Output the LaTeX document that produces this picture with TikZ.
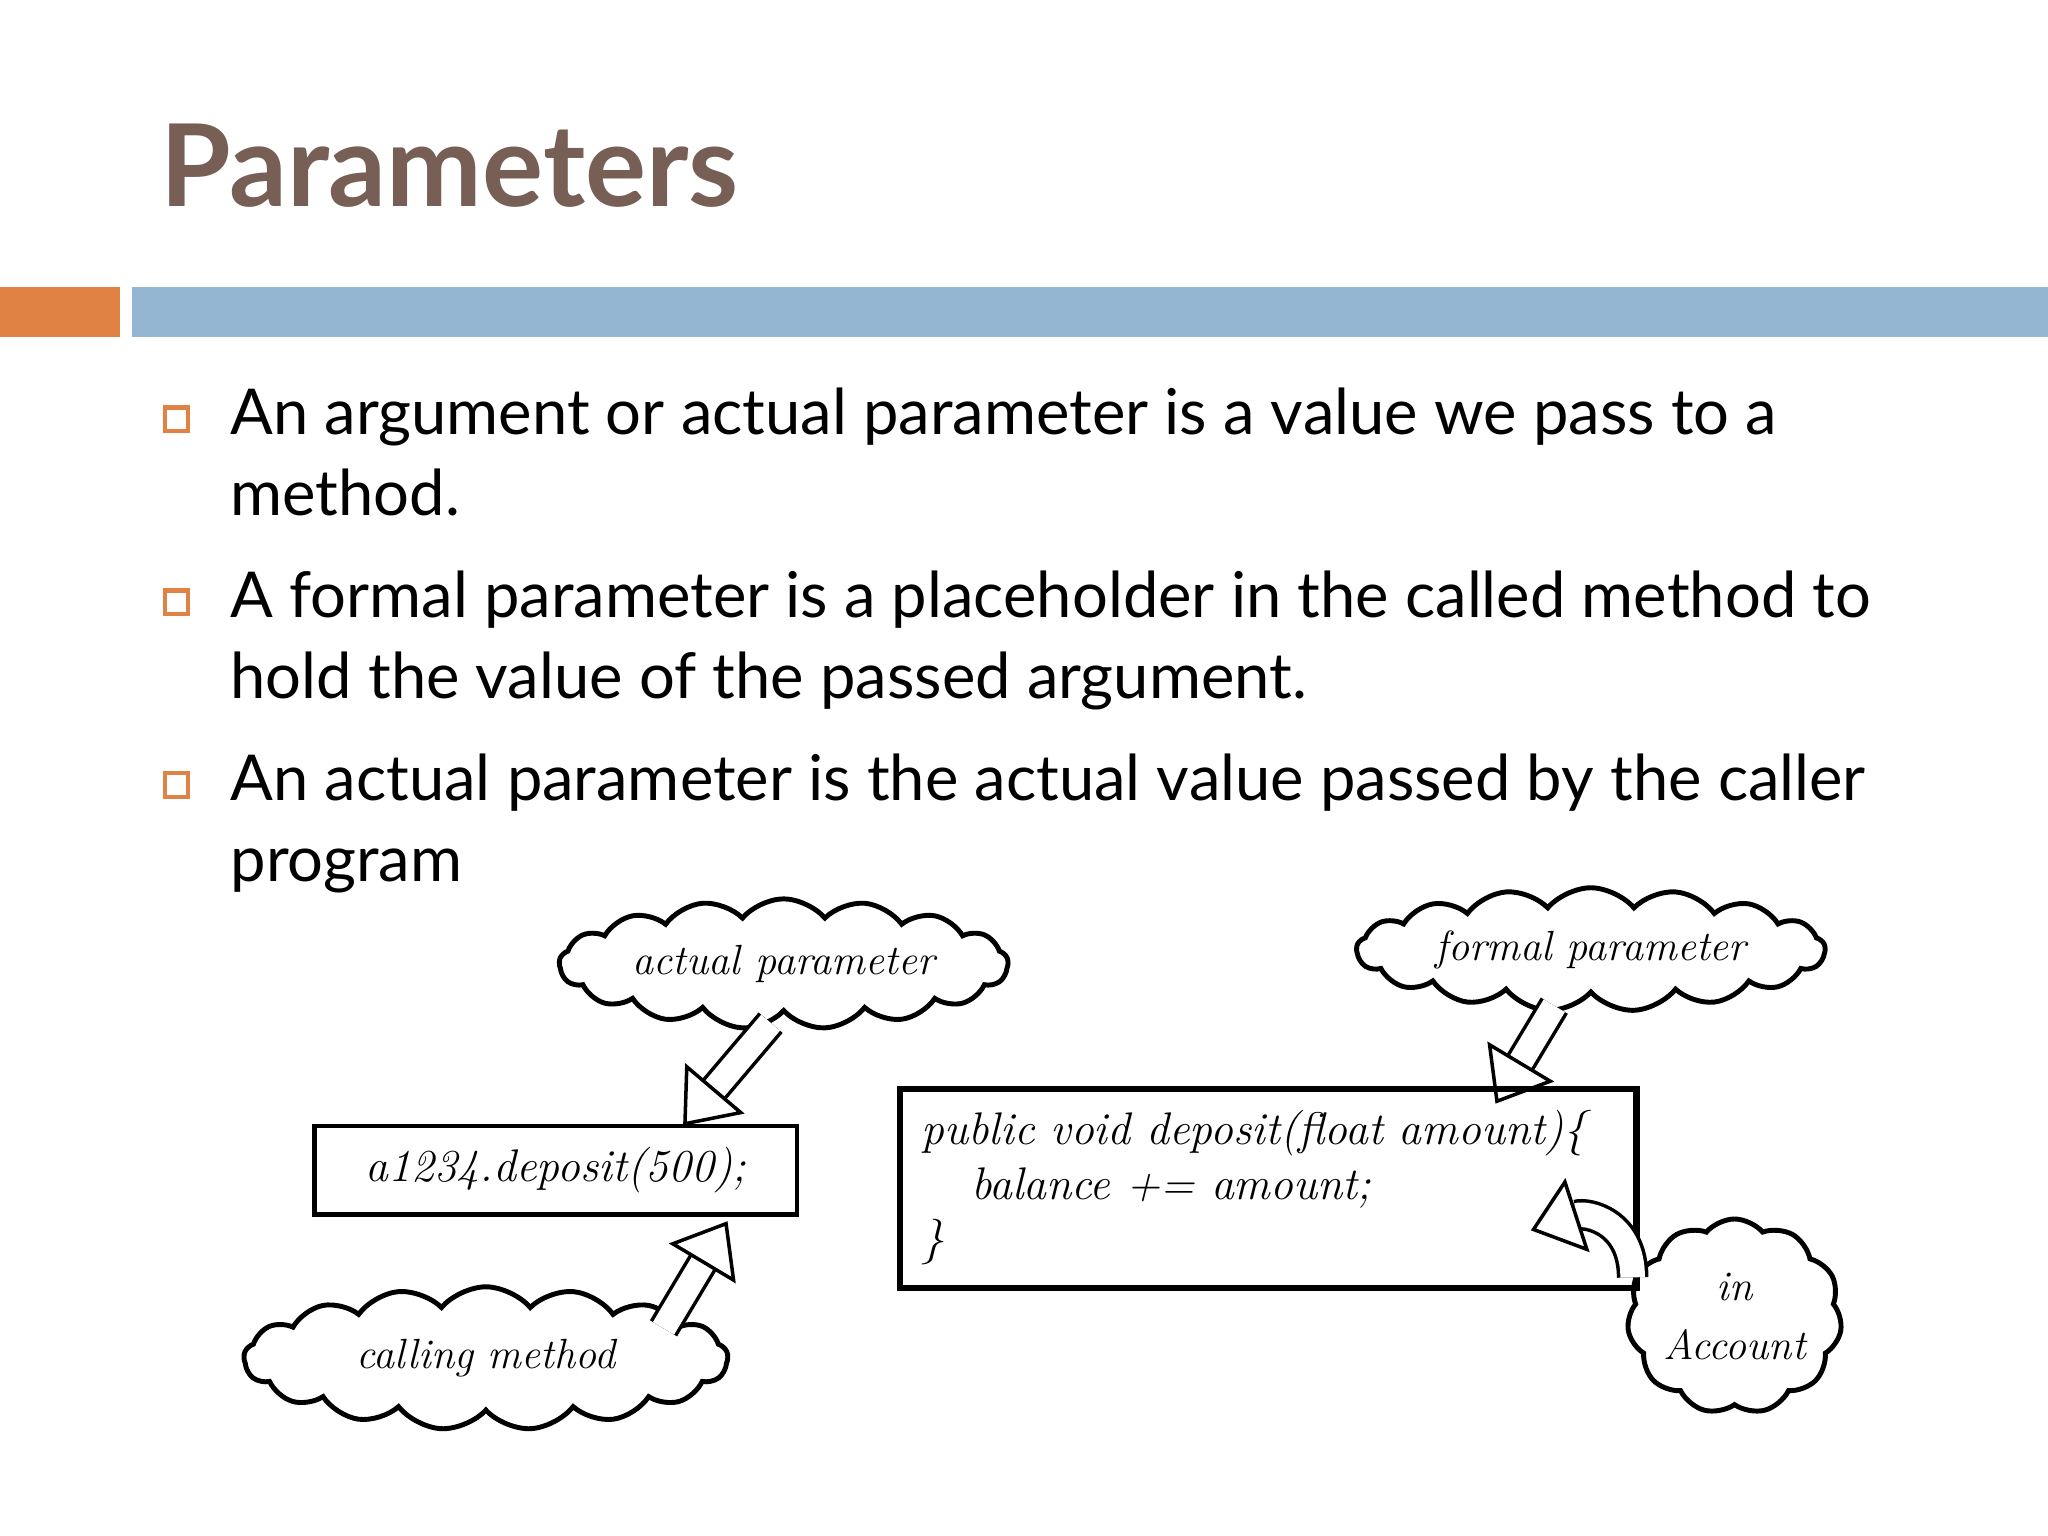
\documentclass[tikz,border=0pt]{standalone}
\usepackage{fontspec}
\setsansfont{Lato}
\usetikzlibrary{shapes.symbols,arrows.meta}
\definecolor{ttl}{HTML}{775F55}
\definecolor{org}{HTML}{DF8244}
\definecolor{blu}{HTML}{94B6D2}
\newlength{\pxu}\setlength{\pxu}{0.3702pt}
\tikzset{
 bul/.style={draw=org,line width=1.2pt,minimum size=18\pxu,inner sep=0pt},
 txt/.style={anchor=base west,inner sep=0pt,font=\sffamily\fontsize{18}{21}\selectfont},
 cld/.style={cloud,draw,line width=1.4pt,cloud puffs=17,cloud puff arc=100,aspect=3.4,inner sep=0pt},
 hw/.style={font=\itshape\fontsize{12}{15}\selectfont},
 blk/.style={line width=1pt,double distance=7pt,-{Triangle[open,length=14pt,width=22pt]}},
 bx/.style={draw,line width=1.2pt}
}
\begin{document}
\begin{tikzpicture}[x=0.01306cm,y=-0.01306cm]
\useasboundingbox (0,0) rectangle (1568,1176);
\node[anchor=base west,inner sep=0pt,text=ttl,font=\sffamily\bfseries\fontsize{32.5}{38}\selectfont] (title) at (122,158) {Parameters};
\fill[org] (0,220) rectangle (92,258);
\fill[blu] (101,220) rectangle (1568,258);
\node[bul] (b1) at (135,321) {};
\node[bul] (b2) at (135,461) {};
\node[bul] (b3) at (135,601) {};
\node[txt] (t1) at (176,333) {An argument or actual parameter is a value we pass to a};
\node[txt] (t1b) at (176,395) {method.};
\node[txt] (t2) at (176,473) {A formal parameter is a placeholder in the called method to};
\node[txt] (t2b) at (176,535) {hold the value of the passed argument.};
\node[txt] (t3) at (176,613) {An actual parameter is the actual value passed by the caller};
\node[txt] (t3b) at (176,675) {program};
% clouds
\node[cld,minimum width=345\pxu,minimum height=100\pxu] (c1) at (600,738) {};
\node[hw] at (c1) {actual parameter};
\node[cld,minimum width=360\pxu,minimum height=95\pxu] (c2) at (1218,727) {};
\node[hw] at (c2) {formal parameter};
\node[cld,minimum width=372\pxu,minimum height=110\pxu] (c3) at (372,1040) {};
\node[hw] at (c3) {calling method};
\node[cld,cloud puffs=11,aspect=1.1,minimum width=165\pxu,minimum height=150\pxu] (c4) at (1328,1008) {};
\node[hw,align=center] at (c4) {in\\[2pt]Account};
% boxes
\node[bx,minimum width=371\pxu,minimum height=68\pxu] (bA) at (425.5,896) {};
\node[hw,font=\itshape\fontsize{13}{16}\selectfont] at (bA) {a1234.deposit(500);};
\draw[line width=1.8pt] (689,834) rectangle (1253,986);
\node[hw,font=\itshape\fontsize{13}{16}\selectfont,anchor=base west,inner sep=0pt] (l1) at (705,876) {public void deposit(float amount)\{};
\node[hw,font=\itshape\fontsize{13}{16}\selectfont,anchor=base west,inner sep=0pt] (l2) at (743,918) {balance += amount;};
\node[hw,font=\itshape\fontsize{13}{16}\selectfont,anchor=base west,inner sep=0pt] (l3) at (705,960) {\}};
% arrows
\coordinate (a1s) at (590,783); \coordinate (a1e) at (523,862);
\draw[blk] (a1s) -- (a1e);
\coordinate (a2s) at (508,1017); \coordinate (a2e) at (557,935);
\draw[blk] (a2s) -- (a2e);
\coordinate (a3s) at (1190,770); \coordinate (a3e) at (1145,845);
\draw[blk] (a3s) -- (a3e);
\coordinate (a4s) at (1250,978); \coordinate (a4e) at (1172,942);
\draw[blk] (a4s) .. controls (1250,935) and (1215,928) .. (a4e);
\end{tikzpicture}
\end{document}
